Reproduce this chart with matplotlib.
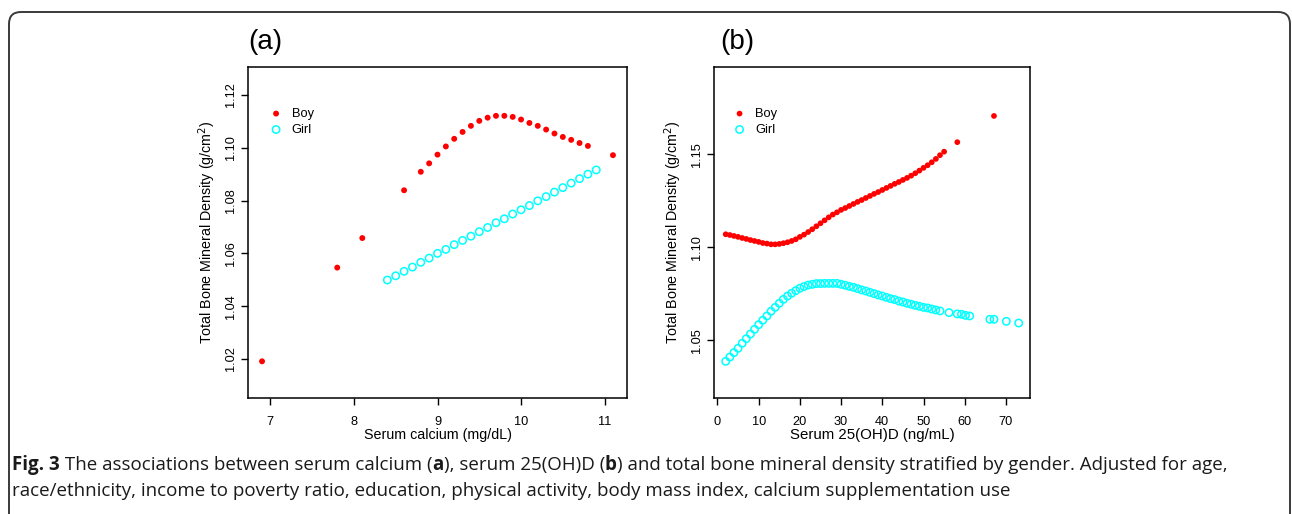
import matplotlib
matplotlib.use("Agg")
import matplotlib.pyplot as plt
import matplotlib.patches as mpatches
import matplotlib.transforms as mtransforms

# panel (a): serum calcium vs total BMD
ca_boy_x = [6.9, 7.8, 8.1, 8.6, 8.8, 8.9, 9.0, 9.1, 9.2, 9.3, 9.4, 9.5, 9.6, 9.7,
            9.8, 9.9, 10.0, 10.1, 10.2, 10.3, 10.4, 10.5, 10.6, 10.7, 10.8, 11.1]
ca_boy_y = [1.0191, 1.0546, 1.0658, 1.0839, 1.0909, 1.0941, 1.0974, 1.1005, 1.1034,
            1.1060, 1.1083, 1.1102, 1.1114, 1.1121, 1.1121, 1.1117, 1.1107, 1.1094,
            1.1083, 1.1069, 1.1054, 1.1041, 1.1030, 1.1018, 1.1007, 1.0972]
ca_girl_x = [8.4, 8.5, 8.6, 8.7, 8.8, 8.9, 9.0, 9.1, 9.2, 9.3, 9.4, 9.5, 9.6, 9.7,
             9.8, 9.9, 10.0, 10.1, 10.2, 10.3, 10.4, 10.5, 10.6, 10.7, 10.8, 10.9]
ca_girl_y = [1.0499, 1.0515, 1.0532, 1.0548, 1.0566, 1.0582, 1.0600, 1.0615, 1.0633,
             1.0649, 1.0665, 1.0682, 1.0698, 1.0716, 1.0731, 1.0749, 1.0765, 1.0781,
             1.0799, 1.0815, 1.0832, 1.0849, 1.0866, 1.0883, 1.0900, 1.0916]

# panel (b): serum 25(OH)D vs total BMD
vd_boy_x = [2, 3, 4, 5, 6, 7, 8, 9, 10, 11, 12, 13, 14, 15, 16, 17, 18, 19, 20,
            21, 22, 23, 24, 25, 26, 27, 28, 29, 30, 31, 32, 33, 34, 35, 36, 37, 38,
            39, 40, 41, 42, 43, 44, 45, 46, 47, 48, 49, 50, 51, 52, 53, 54, 55,
            58.2, 67.1]
vd_boy_y = [1.1070, 1.1066, 1.1061, 1.1056, 1.1050, 1.1045, 1.1039, 1.1034, 1.1029,
            1.1023, 1.1020, 1.1016, 1.1016, 1.1018, 1.1022, 1.1027, 1.1034, 1.1043,
            1.1056, 1.1068, 1.1082, 1.1097, 1.1113, 1.1129, 1.1145, 1.1161, 1.1176,
            1.1188, 1.1201, 1.1211, 1.1222, 1.1233, 1.1244, 1.1254, 1.1265, 1.1276,
            1.1287, 1.1297, 1.1308, 1.1319, 1.1330, 1.1341, 1.1351, 1.1362, 1.1373,
            1.1385, 1.1398, 1.1412, 1.1427, 1.1441, 1.1457, 1.1475, 1.1495, 1.1514,
            1.1565, 1.1706]
vd_girl_x = [2, 3, 4, 5, 6, 7, 8, 9, 10, 11, 12, 13, 14, 15, 16, 17, 18, 19, 20,
             21, 22, 23, 24, 25, 26, 27, 28, 29, 30, 31, 32, 33, 34, 35, 36, 37, 38,
             39, 40, 41, 42, 43, 44, 45, 46, 47, 48, 49, 50, 51, 52, 53, 54,
             56.2, 58.2, 59.2, 60.2, 61.2, 66.1, 67.1, 70.1, 73.1]
vd_girl_y = [1.0387, 1.0410, 1.0434, 1.0457, 1.0484, 1.0509, 1.0534, 1.0559, 1.0584,
             1.0608, 1.0631, 1.0656, 1.0677, 1.0699, 1.0720, 1.0738, 1.0753, 1.0767,
             1.0780, 1.0789, 1.0797, 1.0801, 1.0805, 1.0805, 1.0806, 1.0806, 1.0806,
             1.0806, 1.0801, 1.0796, 1.0790, 1.0785, 1.0778, 1.0771, 1.0765, 1.0758,
             1.0751, 1.0744, 1.0738, 1.0731, 1.0724, 1.0719, 1.0711, 1.0706, 1.0699,
             1.0694, 1.0688, 1.0683, 1.0677, 1.0674, 1.0668, 1.0663, 1.0658,
             1.0649, 1.0642, 1.0640, 1.0634, 1.0631, 1.0613, 1.0613, 1.0602, 1.0593]

ca_xticks = [7, 8, 9, 10, 11]
ca_yticks = [1.02, 1.04, 1.06, 1.08, 1.10, 1.12]
vd_xticks = [0, 10, 20, 30, 40, 50, 60, 70]
vd_yticks = [1.05, 1.10, 1.15]

plt.rcParams['font.family'] = ['Liberation Sans', 'DejaVu Sans']

W, H = 1292, 514
fig = plt.figure(figsize=(W / 100, H / 100), dpi=100)


def px_axes(l, r, t, b):
    return fig.add_axes([l / W, 1 - b / H, (r - l) / W, (b - t) / H])


def style(ax, xticks, yticks, xlab, lab_fs):
    ax.set_xticks(xticks)
    ax.set_yticks(yticks)
    ax.set_yticklabels([f'{v:.2f}' for v in yticks], rotation=90, va='center')
    ax.tick_params(direction='out', length=5, width=1, labelsize=9.2, pad=3)
    ax.tick_params(axis='x', pad=8)
    for s in ax.spines.values():
        s.set_linewidth(1.1)
    ax.set_xlabel(xlab, fontsize=lab_fs, labelpad=0)
    ax.set_ylabel('Total Bone Mineral Density (g/cm$^2$)', fontsize=10.3, labelpad=5)


ax1 = px_axes(248, 627, 67, 398)
ax1.scatter(ca_boy_x, ca_boy_y, s=18, color='red', edgecolors='none', label='Boy')
ax1.scatter(ca_girl_x, ca_girl_y, s=28, facecolors='none', edgecolors='cyan',
            linewidths=1.1, label='Girl')
ax1.set_xlim(6.732, 11.268)
ax1.set_ylim(1.0052, 1.1306)
style(ax1, ca_xticks, ca_yticks, 'Serum calcium (mg/dL)', 10.3)

ax2 = px_axes(714, 1030, 67, 398)
ax2.scatter(vd_boy_x, vd_boy_y, s=17, color='red', edgecolors='none', label='Boy')
ax2.scatter(vd_girl_x, vd_girl_y, s=28, facecolors='none', edgecolors='cyan',
            linewidths=1.1, label='Girl')
ax2.set_xlim(-0.84, 75.84)
ax2.set_ylim(1.0190, 1.1969)
style(ax2, vd_xticks, vd_yticks, 'Serum 25(OH)D (ng/mL)', 10.8)

for ax in (ax1, ax2):
    ax.legend(loc='upper left', bbox_to_anchor=(0.04, 0.892), frameon=False,
              fontsize=9.3, handletextpad=0.6, labelspacing=0.3,
              borderaxespad=0, handlelength=1.2)

fig.text(248 / W, 1 - 42 / H, '(a)', fontsize=20, va='center', ha='left')
fig.text(720 / W, 1 - 42 / H, '(b)', fontsize=20, va='center', ha='left')

# rounded frame around the figure
frame = mpatches.FancyBboxPatch((9, -30), 1281, H - 12 + 30,
                                boxstyle='round,pad=0,rounding_size=12',
                                transform=mtransforms.IdentityTransform(),
                                facecolor='none', edgecolor='#3a3a3a', linewidth=1.4)
fig.patches.append(frame)

# caption with bold parts
renderer = fig.canvas.get_renderer()


def chunks(x, y, parts):
    for s, w in parts:
        t = fig.text(x / W, 1 - y / H, s, fontweight=w, fontsize=13.5,
                     family=['Open Sans', 'DejaVu Sans'], va='center', ha='left',
                     color='#1a1a1a')
        x += t.get_window_extent(renderer=renderer).width


chunks(12, 465, [('Fig. 3', 'bold'),
                 (' The associations between serum calcium (', 'normal'),
                 ('a', 'bold'),
                 ('), serum 25(OH)D (', 'normal'),
                 ('b', 'bold'),
                 (') and total bone mineral density stratified by gender. Adjusted for age,', 'normal')])
chunks(12, 491, [('race/ethnicity, income to poverty ratio, education, physical activity, '
                  'body mass index, calcium supplementation use', 'normal')])

fig.savefig('out.png', dpi=100)
